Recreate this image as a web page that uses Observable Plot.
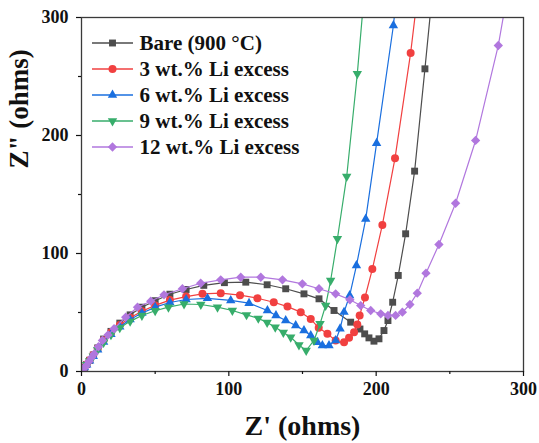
<!DOCTYPE html>
<html><head><meta charset="utf-8">
<script src="https://cdn.jsdelivr.net/npm/d3@7"></script>
<script src="https://cdn.jsdelivr.net/npm/@observablehq/plot@0.6"></script>
<style>html,body{margin:0;padding:0;background:#fff;}</style>
</head><body><div id="chart"></div>
<script>
const seriesNames = ["Bare (900 °C)", "3 wt.% Li excess", "6 wt.% Li excess", "9 wt.% Li excess", "12 wt.% Li excess"];
const seriesColors = ["#4d4d4d", "#F14040", "#1A6FDF", "#37AD6B", "#B177DE"];

const bareRe = [0,0.8,2,3.5,5.5,8,11,15,20,26,33,41,50,60,71,83,97,111.5,126,138.6,151,161.2,171.4,182.7,189,192.2,195.1,198.5,201.9,205.3,208,211.2,215,220,226.1,233.1,242];
const bareIm = [0,1.6,3.5,6,9.5,14,20,27.5,34,41,48,54.5,60,65.5,69.5,73,75.3,75.7,73.5,70.1,65.8,61.6,51.7,41.8,36,31.9,28.5,25.7,27.7,34.7,43.2,58.7,81.4,116.7,169.8,256.5,370];

const li3Re = [0,0.8,2,3.5,5.5,8,11,15,20,26,33,41,50,60,71,82.1,94.5,107.6,119.4,130.5,139.8,148.8,155.6,161,166.9,172.5,178.2,181.6,185,187.2,188.8,192.4,197.4,204.2,212.8,223.4,233];
const li3Im = [0,1.6,3.5,6,9.5,14,19.5,26.5,33,39.5,45.5,51,56,60.5,63.5,65.8,66.4,64.7,62.1,58.7,55,50.3,44.4,37,31.9,26.3,24.8,28.5,33.3,39.8,47.5,62.7,86.8,124.2,180.8,270,370];

const li6Re = [0,0.8,2,3.5,5.5,8,11,15,20,26,33,41,50,60,71,85.5,101.3,113.7,126.2,132,138.6,145.4,151,155.6,160.1,163.5,168,172.5,175.5,178.2,182,186.6,192.9,200.3,211.7,222];
const li6Im = [0,1.5,3.3,5.7,9,13,18.5,25,31.5,38,44,49.5,54.5,58.5,61,62,60.2,57.9,51.7,47.5,43.2,39,34.7,30.5,24.8,22,22,26.3,36.2,50.3,64.4,89.8,129.2,193.5,293.2,420];

const li9Re = [0,0.8,2,3.5,5.5,8,11,15,20,26,33,41,50,59,69.6,81,92.3,102.4,112,120,126,131.5,137,142,147.6,152.5,157.8,161.9,165.7,169.1,173.7,180,187.2,196];
const li9Im = [0,1.5,3.3,5.7,9,13,18.5,24.5,31,37,42.5,47.5,51.5,54.5,57.2,56.8,54.5,51.7,48,45,41.5,37.5,33,29,22.5,17.8,26.3,40.4,55.9,77.1,112.5,165.3,252.3,380];

const li12Re = [0,0.8,1.8,3,5,7,8.6,11.5,14.2,18,22.1,30,38,47,56,68.5,80.9,94.5,108.1,121.7,136.4,149.9,161.2,172.5,182.2,189.5,196.3,203.1,208,213.2,217.8,222.9,227.9,233.8,242.6,253.9,267.5,282.9,296];
const li12Im = [0,1.5,3,4.5,8.5,12,15,21,26.3,31,36.2,46,54.5,59.6,65,70.1,74.8,77.7,79.9,79.9,77.7,74.3,70.1,65.8,60.8,55.9,51.7,48.9,47.5,47.5,50.3,56.8,66.4,83.3,107.6,142.6,195.8,276.3,370];

const xTicks = [0, 100, 200, 300];
const xMinor = [50, 150, 250];
const yTicks = [0, 100, 200, 300];
const yMinor = [50, 150, 250];
const xLabel = "Z' (ohms)";
const yLabel = 'Z" (ohms)';

const reArrays = [bareRe, li3Re, li6Re, li9Re, li12Re];
const imArrays = [bareIm, li3Im, li6Im, li9Im, li12Im];
const symbols = ["square", "circle", "triangle", "triangle", "diamond2"];
const d3Symbols = [d3.symbolSquare, d3.symbolCircle, d3.symbolTriangle, d3.symbolTriangle, d3.symbolDiamond2];
const rotations = [0, 0, 0, 180, 0];
const radii = [3.9, 4, 3.5, 3.5, 4.2];

const series = seriesNames.map((name, i) => ({
  name, color: seriesColors[i], symbol: symbols[i], d3sym: d3Symbols[i], rot: rotations[i], r: radii[i],
  data: reArrays[i].map((re, j) => ({re, im: imArrays[i][j]}))
}));

const font = "'Times New Roman', 'Liberation Serif', serif";

const dataMarks = [];
series.forEach(s => {
  dataMarks.push(Plot.line(s.data, {x: "re", y: "im", stroke: s.color, strokeWidth: 1.2, clip: true}));
  dataMarks.push(Plot.dot(s.data, {x: "re", y: "im", fill: s.color, symbol: s.symbol, r: s.r, rotate: s.rot, clip: true}));
});

function legend(index, scales, values, dimensions) {
  const g = d3.create("svg:g").attr("text-anchor", "start");
  const x0 = dimensions.marginLeft;
  series.forEach((s, i) => {
    const y = dimensions.marginTop + 26 + i * 26;
    g.append("line").attr("x1", x0 + 11).attr("x2", x0 + 52).attr("y1", y).attr("y2", y)
      .attr("stroke", s.color).attr("stroke-width", 1.3);
    g.append("path").attr("transform", `translate(${x0 + 31.5},${y}) rotate(${s.rot})`)
      .attr("d", d3.symbol(s.d3sym, Math.PI * s.r * s.r)()).attr("fill", s.color);
    g.append("text").attr("x", x0 + 58.6).attr("y", y).attr("dy", "0.35em")
      .attr("text-anchor", "start")
      .attr("font-size", 21).attr("font-weight", "bold").attr("font-family", font)
      .attr("fill", "#111").text(s.name);
  });
  return g.node();
}

const chart = Plot.plot({
  width: 539, height: 443,
  marginLeft: 81, marginRight: 16, marginTop: 17, marginBottom: 72,
  x: {domain: [0, 300]},
  y: {domain: [0, 300]},
  style: {fontFamily: font, fontWeight: "bold", fontSize: "18px", color: "#111", background: "#fff"},
  marks: [
    ...dataMarks,
    Plot.frame({stroke: "#3a3a3a", strokeWidth: 1.3}),
    Plot.axisX({ticks: xTicks, tickSize: 5, tickPadding: 6, label: null, fontSize: 18, strokeWidth: 1.2}),
    Plot.axisX({ticks: xMinor, tickSize: 3, fill: "none", label: null, strokeWidth: 1.2}),
    Plot.axisY({ticks: yTicks, tickSize: 5, tickPadding: 8, label: null, fontSize: 18, strokeWidth: 1.2}),
    Plot.axisY({ticks: yMinor, tickSize: 3, fill: "none", label: null, strokeWidth: 1.2}),
    Plot.text([xLabel], {text: d => d, frameAnchor: "bottom", dy: 55, fontSize: 28, lineAnchor: "middle"}),
    Plot.text([yLabel], {text: d => d, frameAnchor: "left", dx: -62, dy: -26, rotate: -90, fontSize: 27, lineAnchor: "middle"}),
    legend
  ]
});
document.getElementById("chart").appendChild(chart);
</script>
</body></html>
